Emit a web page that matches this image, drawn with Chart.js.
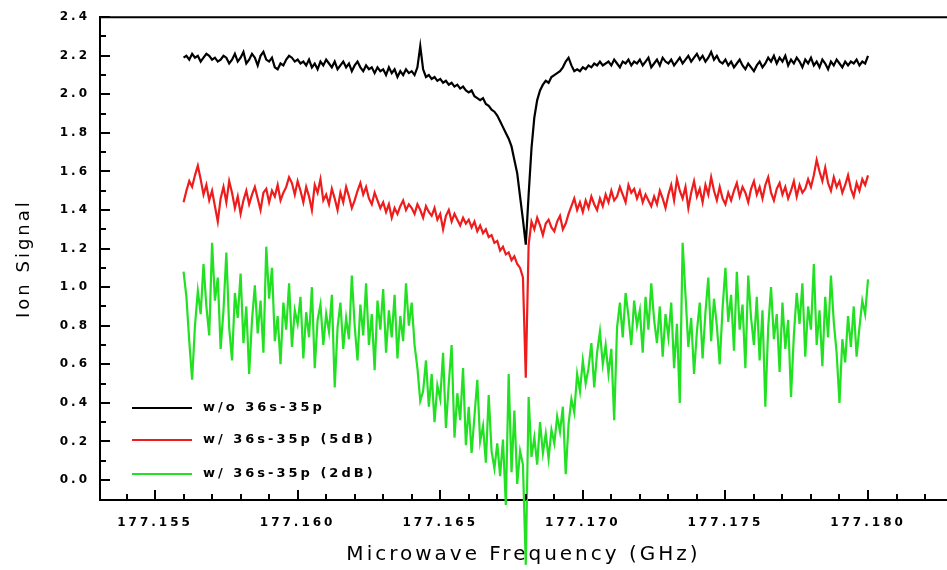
<!DOCTYPE html>
<html>
<head>
<meta charset="utf-8">
<title>Ion Signal vs Microwave Frequency</title>
<script src="https://cdn.jsdelivr.net/npm/chart.js@4.4.1/dist/chart.umd.min.js"></script>
<style>
    html, body { margin: 0; padding: 0; background: #fff; }
    #wrap { width: 947px; height: 570px; }
</style>
</head>
<body>
<div id="wrap"><canvas id="myChart" width="947" height="570"></canvas></div>
<script>
// frequency grid of the scans (GHz)
var freqStart = 177.156,
    freqStep = 0.0001;

var xTicks = [177.155, 177.160, 177.165, 177.170, 177.175, 177.180];
var yTicks = [0.0, 0.2, 0.4, 0.6, 0.8, 1.0, 1.2, 1.4, 1.6, 1.8, 2.0, 2.2, 2.4];

var seriesLabels = ['w/o 36s-35p', 'w/ 36s-35p (5dB)', 'w/ 36s-35p (2dB)'];

// w/o 36s-35p
var noMw = [
    2.19, 2.20, 2.18, 2.21, 2.19, 2.20, 2.17, 2.19, 2.21, 2.20,
    2.18, 2.19, 2.17, 2.18, 2.20, 2.19, 2.16, 2.18, 2.21, 2.17,
    2.19, 2.22, 2.16, 2.18, 2.21, 2.19, 2.15, 2.20, 2.22, 2.18,
    2.17, 2.19, 2.14, 2.13, 2.16, 2.15, 2.18, 2.20, 2.19, 2.17,
    2.18, 2.16, 2.17, 2.15, 2.18, 2.14, 2.16, 2.13, 2.17, 2.15,
    2.18, 2.16, 2.14, 2.17, 2.13, 2.15, 2.17, 2.14, 2.16, 2.12,
    2.15, 2.17, 2.14, 2.12, 2.15, 2.13, 2.14, 2.11, 2.14, 2.12,
    2.13, 2.10, 2.14, 2.11, 2.13, 2.09, 2.12, 2.10, 2.13, 2.11,
    2.12, 2.10, 2.14, 2.25, 2.13, 2.09, 2.10, 2.08, 2.09, 2.07,
    2.08, 2.06, 2.07, 2.05, 2.06, 2.04, 2.05, 2.03, 2.04, 2.02,
    2.01, 2.02, 1.99, 1.98, 1.97, 1.98, 1.95, 1.94, 1.92, 1.91,
    1.89, 1.86, 1.83, 1.80, 1.77, 1.73, 1.66, 1.59, 1.47, 1.35,
    1.22, 1.48, 1.72, 1.88, 1.97, 2.02, 2.05, 2.07, 2.06, 2.09,
    2.10, 2.11, 2.12, 2.14, 2.17, 2.19, 2.15, 2.12, 2.13, 2.12,
    2.14, 2.13, 2.15, 2.14, 2.16, 2.15, 2.17, 2.15, 2.16, 2.17,
    2.15, 2.18, 2.16, 2.14, 2.17, 2.16, 2.18, 2.15, 2.17, 2.16,
    2.18, 2.15, 2.17, 2.19, 2.14, 2.16, 2.18, 2.15, 2.19, 2.17,
    2.16, 2.18, 2.15, 2.17, 2.19, 2.16, 2.18, 2.20, 2.17, 2.19,
    2.21, 2.18, 2.20, 2.17, 2.19, 2.22, 2.18, 2.20, 2.17, 2.16,
    2.18, 2.15, 2.17, 2.14, 2.16, 2.18, 2.15, 2.13, 2.16, 2.14,
    2.12, 2.15, 2.17, 2.14, 2.16, 2.19, 2.17, 2.20, 2.16, 2.19,
    2.17, 2.20, 2.15, 2.18, 2.16, 2.19, 2.17, 2.14, 2.18, 2.16,
    2.19, 2.15, 2.17, 2.14, 2.18, 2.16, 2.13, 2.17, 2.15, 2.18,
    2.16, 2.14, 2.17, 2.15, 2.17, 2.16, 2.18, 2.15, 2.17, 2.16,
    2.20
];

// w/ 36s-35p (5dB)
var mw5dB = [
    1.44, 1.50, 1.55, 1.52, 1.58, 1.63, 1.56, 1.48, 1.53, 1.45,
    1.50, 1.42, 1.34, 1.46, 1.52, 1.44, 1.55, 1.49, 1.41, 1.47,
    1.38, 1.45, 1.50, 1.43, 1.48, 1.52, 1.46, 1.40, 1.49, 1.51,
    1.44, 1.50, 1.47, 1.53, 1.45, 1.49, 1.52, 1.57, 1.54, 1.48,
    1.55, 1.50, 1.44, 1.52, 1.47, 1.40, 1.53, 1.49, 1.56, 1.45,
    1.48, 1.43, 1.51, 1.46, 1.40, 1.49, 1.44, 1.52, 1.47, 1.41,
    1.45, 1.50, 1.54, 1.48, 1.52, 1.46, 1.43, 1.49, 1.45, 1.41,
    1.44, 1.39, 1.43, 1.36, 1.41, 1.38, 1.42, 1.45, 1.40, 1.43,
    1.41, 1.38, 1.43, 1.40, 1.36, 1.42, 1.39, 1.37, 1.41, 1.35,
    1.38, 1.30, 1.37, 1.40, 1.34, 1.38, 1.35, 1.32, 1.36, 1.33,
    1.35, 1.31, 1.34, 1.29, 1.32, 1.28, 1.30, 1.26, 1.27, 1.23,
    1.24, 1.19, 1.21, 1.17, 1.18, 1.14, 1.16, 1.12, 1.10, 1.05,
    0.53, 1.22, 1.34, 1.30, 1.36, 1.32, 1.27, 1.33, 1.35, 1.31,
    1.29, 1.34, 1.37, 1.30, 1.33, 1.38, 1.42, 1.46, 1.40, 1.44,
    1.39, 1.45, 1.41, 1.47, 1.43, 1.40, 1.46, 1.42, 1.48, 1.44,
    1.50, 1.45, 1.47, 1.52, 1.48, 1.44, 1.53, 1.49, 1.51, 1.46,
    1.50, 1.44, 1.48, 1.45, 1.42, 1.47, 1.43, 1.50, 1.46, 1.41,
    1.48, 1.53, 1.45, 1.56, 1.50, 1.46, 1.52, 1.41, 1.49, 1.55,
    1.47, 1.51, 1.44, 1.53, 1.48, 1.57, 1.50, 1.45, 1.52, 1.46,
    1.43, 1.49, 1.45, 1.50, 1.54, 1.47, 1.52, 1.49, 1.44, 1.51,
    1.55, 1.48, 1.52, 1.46, 1.53, 1.57, 1.49, 1.45, 1.51, 1.54,
    1.48, 1.52, 1.46, 1.50, 1.55, 1.47, 1.53, 1.49, 1.51, 1.56,
    1.52, 1.58, 1.66, 1.60, 1.55, 1.62, 1.54, 1.50, 1.57, 1.52,
    1.55, 1.49, 1.53, 1.58, 1.51, 1.47, 1.54, 1.50, 1.56, 1.53,
    1.58
];

// w/ 36s-35p (2dB)
var mw2dB = [
    1.08, 0.95, 0.72, 0.52, 0.80, 0.98, 0.86, 1.12, 0.90, 0.75,
    1.23, 0.93, 1.05, 0.68, 0.88, 1.18, 0.79, 0.62, 0.97, 0.84,
    1.07, 0.71, 0.90, 0.55, 0.83, 1.01, 0.76, 0.93, 0.66, 1.21,
    0.94, 1.10, 0.72, 0.85, 0.60, 0.92, 0.78, 1.02, 0.69, 0.88,
    0.81, 0.95, 0.63, 0.87, 0.74, 1.00, 0.58, 0.83, 0.91, 0.70,
    0.86, 0.77, 0.96, 0.48, 0.79, 0.92, 0.68, 0.84, 0.73, 1.06,
    0.80, 0.62, 0.91, 0.75, 1.02, 0.70, 0.86, 0.57, 0.93, 0.78,
    0.99, 0.66, 0.88, 0.74, 0.96, 0.63, 0.85, 0.72, 1.02, 0.80,
    0.92, 0.70, 0.58, 0.41, 0.46, 0.62, 0.38, 0.55, 0.30, 0.49,
    0.42, 0.66, 0.27, 0.50, 0.70, 0.22, 0.45, 0.31, 0.58, 0.18,
    0.38, 0.14, 0.33, 0.52, 0.20, 0.28, 0.09, 0.44, 0.15, 0.06,
    0.19, 0.02, 0.21, -0.13, 0.55, 0.04, 0.36, -0.02, 0.15, 0.08,
    -0.44, 0.43, 0.12, 0.22, 0.08, 0.30, 0.14, 0.24, 0.11, 0.26,
    0.19, 0.33, 0.25, 0.38, 0.03, 0.29, 0.42, 0.35, 0.55, 0.46,
    0.62, 0.50, 0.58, 0.71, 0.48, 0.66, 0.77, 0.60, 0.70, 0.55,
    0.68, 0.31, 0.79, 0.92, 0.74, 0.97, 0.85, 0.70, 0.93, 0.80,
    0.88, 0.66, 0.95, 0.78, 1.02, 0.83, 0.71, 0.90, 0.64, 0.86,
    0.74, 0.92, 0.58, 0.81, 0.40, 1.23, 0.96, 0.69, 0.84, 0.55,
    0.77, 0.92, 0.63, 0.87, 1.05, 0.72, 0.94, 0.80, 0.60, 0.89,
    1.10, 0.82, 0.96, 0.67, 1.08, 0.78, 0.91, 0.58, 1.06, 0.84,
    0.70, 0.95, 0.62, 0.88, 0.38, 0.79, 1.00, 0.73, 0.86, 0.56,
    0.92, 0.68, 0.83, 0.43, 0.75, 0.97, 0.81, 1.02, 0.64, 0.90,
    0.78, 1.12, 0.70, 0.88, 0.59, 0.95, 0.74, 1.06, 0.82, 0.66,
    0.40, 0.73, 0.61, 0.85, 0.69, 0.90, 0.64, 0.79, 0.93, 0.86,
    1.04
];

/**
 * pair values with the frequency grid
 * @param values
 * @returns {Array}
 */
function toPoints(values) {
    var pts = [];
    for (var i = 0; i < values.length; i++) {
        pts.push({x: freqStart + i * freqStep, y: values[i]});
    }
    return pts;
}

/**
 * top frame, inward tick marks and the legend box
 */
var frameAndLegend = {
    id: 'frameAndLegend',
    beforeDraw: function (chart) {
        chart.ctx.letterSpacing = '3px';
    },
    afterDraw: function (chart) {
        var ctx = chart.ctx,
            area = chart.chartArea,
            xs = chart.scales.x,
            ys = chart.scales.y,
            k, px, len;

        ctx.save();
        ctx.strokeStyle = '#000';
        ctx.lineWidth = 2;
        ctx.lineCap = 'butt';

        // top frame line
        ctx.beginPath();
        ctx.moveTo(area.left - 1, area.top);
        ctx.lineTo(area.right, area.top);
        ctx.stroke();

        // x ticks every 0.001, major every 0.005
        ctx.beginPath();
        for (k = Math.ceil(xs.min * 1000); k <= Math.floor(xs.max * 1000); k++) {
            px = Math.round(xs.getPixelForValue(k / 1000));
            len = (k % 5 === 0) ? 10 : 6;
            ctx.moveTo(px, area.bottom);
            ctx.lineTo(px, area.bottom - len);
        }
        // y ticks every 0.1, major every 0.2
        for (k = 0; k <= 24; k++) {
            px = Math.round(ys.getPixelForValue(k / 10));
            len = (k % 2 === 0) ? 10 : 6;
            ctx.moveTo(area.left, px);
            ctx.lineTo(area.left + len, px);
        }
        ctx.stroke();

        // legend
        var rows = [408, 440, 474];
        ctx.font = 'bold 13px "DejaVu Sans"';
        ctx.letterSpacing = '3px';
        ctx.textBaseline = 'middle';
        ctx.textAlign = 'left';
        ctx.fillStyle = '#000';
        chart.data.datasets.forEach(function (ds, i) {
            ctx.strokeStyle = ds.borderColor;
            ctx.lineWidth = 2;
            ctx.beginPath();
            ctx.moveTo(132, rows[i]);
            ctx.lineTo(192, rows[i]);
            ctx.stroke();
            ctx.fillText(ds.label, 203, rows[i]);
        });
        ctx.restore();
    }
};

var tickFont = {family: 'DejaVu Sans', size: 12, weight: 'bold'};

var ctx = document.getElementById('myChart').getContext('2d');
var chart = new Chart(ctx, {
    type: 'line',
    data: {
        datasets: [{
            label: seriesLabels[0],
            data: toPoints(noMw),
            borderColor: '#000000',
            clip: false
        }, {
            label: seriesLabels[1],
            data: toPoints(mw5dB),
            borderColor: '#ee1c1c',
            clip: false
        }, {
            label: seriesLabels[2],
            data: toPoints(mw2dB),
            borderColor: '#22e022',
            clip: false
        }]
    },
    options: {
        responsive: false,
        animation: false,
        layout: {padding: {top: 17, right: 0, bottom: 0, left: 0}},
        elements: {
            point: {radius: 0},
            line: {borderWidth: 2.2, tension: 0}
        },
        plugins: {
            legend: {display: false},
            tooltip: {enabled: false}
        },
        scales: {
            x: {
                type: 'linear',
                position: 'bottom',
                min: 177.15307,
                max: 177.18277,
                afterFit: function (s) { s.height = 70; },
                afterBuildTicks: function (s) {
                    s.ticks = xTicks.map(function (v) { return {value: v}; });
                },
                grid: {display: false, drawTicks: false},
                border: {display: true, color: '#000', width: 2},
                ticks: {
                    autoSkip: false,
                    maxRotation: 0,
                    padding: 16,
                    color: '#000',
                    font: tickFont,
                    callback: function (v) { return v.toFixed(3); }
                },
                title: {
                    display: true,
                    text: 'Microwave Frequency (GHz)',
                    color: '#000',
                    font: {family: 'DejaVu Sans', size: 20},
                    padding: {top: 0, bottom: 3}
                }
            },
            y: {
                type: 'linear',
                position: 'left',
                min: -0.1037,
                max: 2.4,
                afterFit: function (s) { s.width = 100; },
                afterBuildTicks: function (s) {
                    s.ticks = yTicks.map(function (v) { return {value: v}; });
                },
                grid: {display: false, drawTicks: false},
                border: {display: true, color: '#000', width: 2},
                ticks: {
                    padding: 10,
                    color: '#000',
                    font: tickFont,
                    callback: function (v) { return v.toFixed(1); }
                },
                title: {
                    display: true,
                    text: 'Ion Signal',
                    color: '#000',
                    font: {family: 'DejaVu Sans', size: 18},
                    padding: {top: 14, bottom: 0}
                }
            }
        }
    },
    plugins: [frameAndLegend]
});
</script>
</body>
</html>
